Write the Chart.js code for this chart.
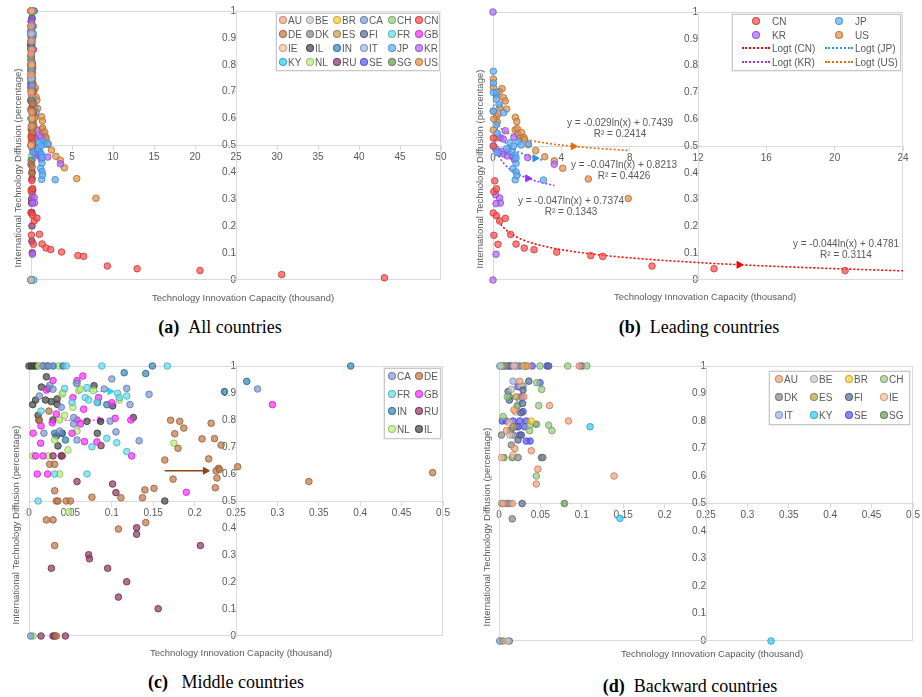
<!DOCTYPE html>
<html>
<head>
<meta charset="utf-8">
<script src="https://cdn.jsdelivr.net/npm/chart.js@4.4.0/dist/chart.umd.min.js"></script>
<style>
  body { margin: 0; width: 922px; height: 697px; background: #fff; position: relative; overflow: hidden;
         font-family: 'Liberation Sans', Arial, sans-serif; }
  .panel { position: absolute; }
  .txt { position: absolute; color: #595959; font-size: 10px; white-space: nowrap; transform: translate(-50%, -50%); }
  .ttl { font-size: 9.5px; }
  .ytitle { transform: translate(-50%, -50%) rotate(-90deg); }
  .cap { position: absolute; transform: translate(-50%, -50%); font-family: 'Liberation Serif', 'Times New Roman', serif;
         font-size: 18px; color: #000; white-space: nowrap; }
  .legend { position: absolute; border: 1px solid #C8C8C8; box-shadow: 0 0 0 1px #EFEFEF; background: #fff; }
  .lg-item { position: absolute; color: #595959; font-size: 10px; white-space: nowrap; transform: translateY(-50%); }
  .lg-dot { position: absolute; width: 6px; height: 6px; border-radius: 50%; transform: translate(-50%, -50%); }
  .lg-line { position: absolute; height: 0; border-top: 2px dotted; transform: translateY(-50%); }
</style>
</head>
<body>
<div class="panel" style="left:0;top:0"><canvas id="chartA" width="460" height="300"></canvas></div>
<div class="panel" style="left:460px;top:0"><canvas id="chartB" width="462" height="300"></canvas></div>
<div class="panel" style="left:0;top:350px"><canvas id="chartC" width="460" height="300"></canvas></div>
<div class="panel" style="left:460px;top:350px"><canvas id="chartD" width="462" height="310"></canvas></div>

<script>
// values: [innovation capacity (thousand), diffusion]
const CN = [[0.02,0.53],[0.02,0.50],[0.10,0.37],[0.05,0.33],[0.20,0.34],[0.02,0.25],[0.20,0.24],[0.39,0.22],[0.72,0.23],
  [0.05,0.167],[1.03,0.17],[0.29,0.133],[1.35,0.134],[1.83,0.119],[2.40,0.113],[3.73,0.104],[5.72,0.091],[6.42,0.088],
  [9.31,0.052],[12.94,0.042],[20.61,0.035],[30.57,0.020],[43.10,0.008]]
const JP = [[0.02,0.779],[0.02,0.735],[0.02,0.70],[0.2,0.70],[0.2,0.675],[0.35,0.655],[0.62,0.624],[0.02,0.63],[0.2,0.58],
  [0.25,0.547],[0.02,0.5],[0.25,0.475],[1.0,0.512],[1.48,0.516],[1.64,0.504],[2.07,0.507],[1.1,0.478],[1.3,0.466],
  [1.35,0.435],[1.17,0.415],[1.35,0.403],[1.3,0.374],[1.4,0.39],[2.95,0.373],[0.8,0.49],[1.2,0.5],[1.35,0.455]]
const KR = [[0,1],[0,0],[0.18,0.096],[0.16,0.318],[0.39,0.306],[0.43,0.287],[0.18,0.285],[0.72,0.557],[0.43,0.531],
  [0.6,0.526],[1.23,0.533],[0.15,0.49],[0.35,0.475],[0.5,0.48],[0.62,0.47],[0.88,0.48],[0.84,0.463],[1.15,0.46],
  [1.25,0.45],[2.03,0.457],[3.59,0.432]]
const US = [[0.02,0.75],[0.02,0.72],[0.53,0.714],[0.2,0.69],[0.37,0.703],[0.62,0.68],[0.72,0.668],[0.8,0.638],[0.02,0.63],
  [0.2,0.61],[0.25,0.59],[0.02,0.56],[0.2,0.53],[0.05,0.6],[1.31,0.607],[1.39,0.591],[1.3,0.56],[1.42,0.565],[1.45,0.545],
  [1.67,0.55],[1.6,0.53],[1.8,0.532],[1.85,0.525],[2.07,0.505],[2.5,0.483],[3.03,0.46],[3.59,0.445],[4.08,0.417],
  [5.58,0.377],[7.92,0.304],[0.4,0.645],[0.3,0.62]]

const CA = [[0.017,1],[0.024,1],[0.0125,0.889],[0.018,0.751],[0.025,0.928],[0.029,0.914],[0.039,0.847],[0.037,0.759],
  [0.058,0.726],[0.054,0.809],[0.054,0.785],[0.058,0.936],[0.091,0.915],[0.098,0.796],[0.1,0.952],[0.105,0.756],
  [0.118,0.917],[0.122,0.857],[0.133,0.723],[0.145,0.895],[0.276,0.915],[0.002,0]]
const DE = [[0.0125,0.799],[0.024,0.833],[0.025,0.636],[0.031,0.636],[0.031,0.538],[0.033,0.5],[0.035,0.5],[0.045,0.5],
  [0.05,0.5],[0.021,0.43],[0.029,0.43],[0.031,0.335],[0.076,0.514],[0.108,0.396],[0.111,0.512],[0.137,0.512],[0.14,0.541],
  [0.141,0.42],[0.151,0.547],[0.164,0.652],[0.171,0.799],[0.174,0.581],[0.176,0.749],[0.18,0.695],[0.182,0.795],
  [0.187,0.77],[0.209,0.73],[0.217,0.656],[0.22,0.788],[0.224,0.731],[0.225,0.549],[0.227,0.585],[0.229,0.621],
  [0.226,0.612],[0.23,0.617],[0.232,0.707],[0.252,0.627],[0.338,0.572],[0.4875,0.605],[0.033,0]]
const FR = [[0.011,0.5],[0.0145,0.833],[0.031,0.6],[0.045,1],[0.088,1],[0.167,1],[0.043,0.917],[0.052,0.865],[0.07,0.6],
  [0.07,0.92],[0.068,0.883],[0.072,0.874],[0.076,0.701],[0.082,0.865],[0.094,0.732],[0.106,0.716],[0.107,0.899],
  [0.109,0.883],[0.118,0.889],[0.118,0.683]]
const GB = [[0.005,0.751],[0.01,0.6],[0.014,0.714],[0.0145,0.778],[0.017,0.667],[0.021,0.911],[0.0225,0.6],[0.028,0.79],
  [0.029,0.946],[0.033,0.822],[0.008,0.667],[0.052,0.751],[0.053,0.883],[0.058,0.946],[0.058,0.8],[0.062,0.785],
  [0.065,0.963],[0.066,0.84],[0.067,0.72],[0.082,0.719],[0.084,0.883],[0.1,0.864],[0.104,0.806],[0.123,0.8],
  [0.124,0.667],[0.19,0.532],[0.294,0.857]]
const IN = [[0.029,1],[0.041,1],[0.149,1],[0.3885,1],[0.115,0.975],[0.141,0.972],[0.236,0.905],[0.263,0.943],
  [0.094,0.857],[0.083,0.865],[0.044,0.726],[0.031,0.751],[0.04,0.751]]
const RU = [[0.0145,0],[0.029,0],[0.031,0],[0.044,0],[0.029,0.667],[0.039,0.667],[0.04,0.667],[0.058,0.572],[0.087,0.705],
  [0.101,0.563],[0.105,0.531],[0.13,0.401],[0.13,0.377],[0.072,0.301],[0.073,0.286],[0.027,0.251],[0.095,0.251],
  [0.118,0.201],[0.108,0.144],[0.156,0.101],[0.207,0.335]]
const NL = [[0.005,0.667],[0.023,0.667],[0.037,0.6],[0.031,0.726],[0.04,0.896],[0.041,0.901],[0.043,0.817],[0.037,0.8],
  [0.047,0.689],[0.053,0.847],[0.057,0.936],[0.06,0.909],[0.062,0.914],[0.058,0.759],[0.078,0.909],[0.109,0.874],
  [0.175,0.714],[0.048,0.46],[0.005,0],[0.012,1],[0.036,1]]
const IL = [[0.0,1],[0.003,1],[0.006,1],[0.009,1],[0.017,1],[0.022,1],[0.0045,0.857],[0.008,0.874],[0.015,0.922],
  [0.011,0.817],[0.012,0.799],[0.021,0.96],[0.02,0.874],[0.023,0.917],[0.027,0.868],[0.029,0.8],[0.034,0.878],
  [0.034,0.858],[0.033,0.741],[0.035,0.704],[0.04,0.751],[0.07,0.795],[0.0785,0.927],[0.0825,0.751],[0.0865,0.795],
  [0.101,0.852],[0.126,0.809],[0.164,0.5]]

const AU = [[0.061,0.856],[0.084,0.8],[0.139,0.6],[0.047,0.625],[0.045,0.571],[0.039,0.692],[0.019,0.7],[0.009,0.765],
  [0.025,0.944],[0.018,0.84],[0.03,0.888],[0.035,1],[0.097,1],[0.016,0.5],[0.005,0.5]]
const BE = [[0.015,0.915],[0.013,0.749],[0.0105,0],[0.003,0.5],[0.002,1]]
const BR = [[0.039,0.8],[0.03,1]]
const CH = [[0.0455,0.939],[0.0515,0.915],[0.048,0.856],[0.06,0.785],[0.064,0.765],[0.037,0.765],[0.037,0.785],
  [0.045,0.6],[0.005,0.816],[0.01,0.888],[0.003,1],[0.0495,1],[0.083,1],[0.106,1]]
const DK = [[0.003,0.749],[0.015,0.713],[0.016,0.444],[0.023,0.667],[0.0125,0],[0.017,0.749],[0.053,0.667],[0.008,1],[0.01,0.5]]
const ES = [[0.021,0.888],[0.017,0.779],[0.004,0.5],[0.005,0],[0.006,1]]
const FI = [[0.036,0.945],[0.011,0.907],[0.0125,0.876],[0.029,0.913],[0.0285,0.864],[0.0265,0.83],[0.023,0.731],
  [0.0145,0.767],[0.027,0.749],[0.0515,0.667],[0.028,0.5],[0.06,1],[0.0325,1]]
const IE = [[0.003,0.667],[0.017,0.676],[0.0125,0.794],[0.027,0.927],[0.018,1],[0.02,0.833]]
const IT = [[0.017,0.945],[0.0125,0.5],[0.025,0.876],[0.001,0],[0.02,1]]
const KY = [[0.146,0.446],[0.11,0.779],[0.029,0.927],[0.001,0],[0.001,1],[0.3285,0]]
const SE = [[0.004,0.8],[0.0085,0.8],[0.017,0.8],[0.025,0.8],[0.033,0.8],[0.0495,0.939],[0.023,0.779],[0.031,0.779],
  [0.0375,0.727],[0.033,0.727],[0.029,0.834],[0.023,0.925],[0.027,0.888],[0.025,0.749],[0.013,1],[0.02,1],[0.025,1],
  [0.03,1],[0.04,1],[0.058,1],[0.1,1]]
const SG = [[0.045,0.788],[0.006,0.667],[0.016,0.667],[0.079,0.5],[0.0125,0.888],[0.022,0.855],[0.021,0.779],
  [0.005,1],[0.011,1],[0.015,1]]

// which countries go in which panel (legend order)
const allCountries = ['AU','BE','BR','CA','CH','CN','DE','DK','ES','FI','FR','GB','IE','IL','IN','IT','JP','KR','KY','NL','RU','SE','SG','US']
const leadingCountries = ['CN','JP','KR','US']
const middleCountries = ['CA','DE','FR','GB','IN','RU','NL','IL']
const backwardCountries = ['AU','BE','BR','CH','DK','ES','FI','IE','IT','KY','SE','SG']

// log trendlines printed on panel (b): y = slope*ln(x) + intercept, x in raw units
const trendCountries = ['CN','JP','KR','US']
const trendSlope = [-0.044, -0.047, -0.047, -0.029]
const trendIntercept = [0.4781, 0.8213, 0.7374, 0.7439]
const trendR2 = [0.3114, 0.4426, 0.1343, 0.2414]
const trendFrom = [0.25, 0.007, 0.1, 0.2]
const trendTo = [43.1, 2.95, 3.59, 7.92]
const trendArrowX = [14.4, 2.46, 2.03, 4.7]
const trendSampleX = [0.007,0.01,0.015,0.02,0.03,0.05,0.07,0.1,0.15,0.2,0.25,0.3,0.4,0.5,0.7,1,1.5,2,2.5,3,
  3.59,4,5,6,7,7.92,10,13,16,20,24,30,43.1]

// arrows drawn on panel (c)
const arrowDE = [[0.164,0.612],[0.213,0.612]]
const arrowFR = [[0.0556,0.885],[0.0616,0.906],[0.0978,0.906]]
const arrowGB = [[0.0334,0.799],[0.0857,0.799]]

const DATA = {AU,BE,BR,CA,CH,CN,DE,DK,ES,FI,FR,GB,IE,IL,IN,IT,JP,KR,KY,NL,RU,SE,SG,US}

const COLORS = {
  AU:'#F4A27A', BE:'#C8C8C8', BR:'#FFCC33', CA:'#7F9BDB', CH:'#98CC80', CN:'#FF4D4D',
  DE:'#C07A4A', DK:'#8A8A8A', ES:'#C0A050', FI:'#5A6E9C', FR:'#66DDEE', GB:'#FF33FF',
  IE:'#F8C09A', IL:'#4A4A4A', IN:'#3A88B8', IT:'#9FB4E6', JP:'#5AAFFF', KR:'#B266FF',
  KY:'#33CCFF', NL:'#B8F07A', RU:'#8E3A66', SE:'#5C5CFF', SG:'#6E9E5E', US:'#E0904A'
}
const TREND_COLORS = {CN:'#FF0000', JP:'#2E8FEF', KR:'#9933FF', US:'#E46C0A'}

const FONT = "'Liberation Sans', Arial, sans-serif"
Chart.defaults.font.family = FONT

function rgba(hex, a, f = 1) {
  const n = parseInt(hex.slice(1), 16)
  const r = Math.round(((n >> 16) & 255) * f), g = Math.round(((n >> 8) & 255) * f), b = Math.round((n & 255) * f)
  return `rgba(${r},${g},${b},${a})`
}

function pointSet(code) {
  return {
    label: code,
    data: DATA[code].map(p => ({x: p[0], y: p[1]})),
    backgroundColor: rgba(COLORS[code], 0.72),
    borderColor: rgba(COLORS[code], 0.85, 0.78),
    borderWidth: 1,
    pointRadius: 3.3,
    clip: false
  }
}

const trendY = (i, x) => trendSlope[i] * Math.log(x * 1000) + trendIntercept[i]

function trendSets() {
  let sets = []
  trendCountries.forEach((c, i) => {
    let xs = [trendFrom[i]].concat(trendSampleX.filter(x => x > trendFrom[i] && x < trendTo[i]), [trendTo[i]])
    sets.push({
      label: 'Logt (' + c + ')', type: 'line',
      data: xs.map(x => ({x: x, y: trendY(i, x)})),
      borderColor: TREND_COLORS[c], borderWidth: 1.6, borderDash: [2, 2],
      pointRadius: 0, fill: false, clip: 0
    })
    sets.push({
      label: 'arrow ' + c, type: 'scatter',
      data: [{x: trendArrowX[i], y: trendY(i, trendArrowX[i])}],
      pointStyle: 'triangle', rotation: 90, pointRadius: 4,
      backgroundColor: TREND_COLORS[c], borderColor: TREND_COLORS[c], borderWidth: 1, clip: 0
    })
  })
  return sets
}

function arrowSets(points, color, dash) {
  let last = points[points.length - 1]
  return [{
    type: 'line', data: points.map(p => ({x: p[0], y: p[1]})),
    borderColor: color, borderWidth: 1.3, borderDash: dash, pointRadius: 0, fill: false
  }, {
    type: 'scatter', data: [{x: last[0], y: last[1]}],
    pointStyle: 'triangle', rotation: 90, pointRadius: 4,
    backgroundColor: color, borderColor: color, borderWidth: 1
  }]
}

const fmt = v => String(+v.toFixed(2))

function makeScales(xMax, xStep, xMid) {
  const tickFont = {family: FONT, size: 10}
  return {
    x: {
      type: 'linear', min: 0, max: xMax, position: {y: 0.5},
      border: {color: '#D9D9D9', width: 1},
      grid: {drawOnChartArea: false, color: '#D9D9D9', tickLength: 4},
      ticks: {stepSize: xStep, autoSkip: false, maxRotation: 0, padding: 2, color: '#595959', font: tickFont, callback: fmt}
    },
    y: {
      type: 'linear', min: 0, max: 1, position: {x: xMid},
      border: {color: '#D9D9D9', width: 1},
      grid: {drawOnChartArea: false, color: '#D9D9D9', tickLength: 4},
      ticks: {stepSize: 0.1, autoSkip: false, padding: 3, color: '#595959', font: tickFont, callback: fmt}
    }
  }
}

const frame = {
  id: 'frame',
  beforeDatasetsDraw(chart) {
    const a = chart.chartArea, ctx = chart.ctx
    ctx.save()
    ctx.strokeStyle = '#D9D9D9'
    ctx.lineWidth = 1
    ctx.strokeRect(a.left + 0.5, a.top + 0.5, a.width - 1, a.height - 1)
    ctx.restore()
  }
}

function buildChart(id, datasets, scales, padding) {
  return new Chart(document.getElementById(id), {
    type: 'scatter',
    data: {datasets: datasets},
    options: {
      responsive: false, animation: false, events: [],
      layout: {padding: padding},
      scales: scales,
      plugins: {legend: {display: false}, tooltip: {enabled: false}}
    },
    plugins: [frame]
  })
}

buildChart('chartA', allCountries.map(pointSet), makeScales(50, 5, 25), {left: 31, top: 11, right: 19, bottom: 20})
buildChart('chartB', leadingCountries.map(pointSet).concat(trendSets()), makeScales(24, 4, 12), {left: 33, top: 12, right: 19, bottom: 20})
buildChart('chartC', middleCountries.map(pointSet).concat(arrowSets(arrowDE, '#8B4513', []),
  arrowSets(arrowFR, '#33CCEE', [2, 2]), arrowSets(arrowGB, '#FF33FF', [2, 2])),
  makeScales(0.5, 0.05, 0.25), {left: 29, top: 16, right: 17, bottom: 14})
buildChart('chartD', backwardCountries.map(pointSet), makeScales(0.5, 0.05, 0.25), {left: 39, top: 16, right: 9, bottom: 19})

// ---- html text: titles, captions, equations, legends ----
function addText(cls, x, y, html) {
  let d = document.createElement('div')
  d.className = cls
  d.style.left = x + 'px'
  d.style.top = y + 'px'
  d.innerHTML = html
  document.body.appendChild(d)
}

const xTitle = 'Technology Innovation Capacity (thousand)'
const yTitle = 'International Technology Diffusion (percentage)'
addText('txt ttl', 243, 297, xTitle); addText('txt ttl ytitle', 17, 168, yTitle)
addText('txt ttl', 705, 296, xTitle); addText('txt ttl ytitle', 479, 169, yTitle)
addText('txt ttl', 241, 652, xTitle); addText('txt ttl ytitle', 15, 525, yTitle)
addText('txt ttl', 712, 653, xTitle); addText('txt ttl ytitle', 486, 527, yTitle)

addText('cap', 220, 327, '<b>(a)</b>&nbsp;&nbsp;All countries')
addText('cap', 699, 327, '<b>(b)</b>&nbsp;&nbsp;Leading countries')
addText('cap', 226, 682, '<b>(c)</b>&nbsp;&nbsp;&nbsp;Middle countries')
addText('cap', 690, 686, '<b>(d)</b>&nbsp;&nbsp;Backward countries')

const eqPos = {CN: [846, 243], JP: [624, 164], KR: [571, 200], US: [620, 122]}
trendCountries.forEach((c, i) => {
  const [x, y] = eqPos[c]
  addText('txt', x, y, 'y = ' + trendSlope[i] + 'ln(x) + ' + trendIntercept[i])
  addText('txt', x, y + 11, 'R² = ' + trendR2[i])
})

function addLegend(box, items, colX, rowY, textGap) {
  let lg = document.createElement('div')
  lg.className = 'legend'
  lg.style.left = box[0] + 'px'; lg.style.top = box[1] + 'px'
  lg.style.width = box[2] + 'px'; lg.style.height = box[3] + 'px'
  document.body.appendChild(lg)
  items.forEach((it, i) => {
    const col = i % colX.length, row = Math.floor(i / colX.length)
    const cx = colX[col], cy = rowY[row]
    let t = document.createElement('div')
    t.className = 'lg-item'
    t.style.top = cy + 'px'
    t.textContent = it.label
    if (it.line) {
      let l = document.createElement('div')
      l.className = 'lg-line'
      l.style.left = (cx - 14) + 'px'; l.style.top = cy + 'px'; l.style.width = '28px'
      l.style.borderTopColor = it.line
      document.body.appendChild(l)
      t.style.left = (cx + 16) + 'px'
    } else {
      let d = document.createElement('div')
      d.className = 'lg-dot'
      d.style.left = cx + 'px'; d.style.top = cy + 'px'
      d.style.background = rgba(COLORS[it.label], 0.72)
      d.style.border = '1px solid ' + rgba(COLORS[it.label], 0.85, 0.78)
      document.body.appendChild(d)
      t.style.left = (cx + textGap) + 'px'
    }
    document.body.appendChild(t)
  })
}

addLegend([276, 13, 162, 56], allCountries.map(c => ({label: c})), [283, 310, 337, 364, 392, 419], [20, 34, 48, 62], 5)
addLegend([732, 14, 167, 55],
  [{label: 'CN'}, {label: 'JP'}, {label: 'KR'}, {label: 'US'}].concat(
    ['CN', 'JP', 'KR', 'US'].map(c => ({label: 'Logt (' + c + ')', line: TREND_COLORS[c]}))),
  [756, 839], [20.7, 34.7, 48.3, 62.3], 16)
addLegend([384, 368, 55, 69], middleCountries.map(c => ({label: c})), [392, 419], [376, 393.7, 411, 428.7], 5)
addLegend([769, 371, 139, 52], backwardCountries.map(c => ({label: c})), [779, 814, 849, 884], [379, 397, 415], 5)
</script>
</body>
</html>
